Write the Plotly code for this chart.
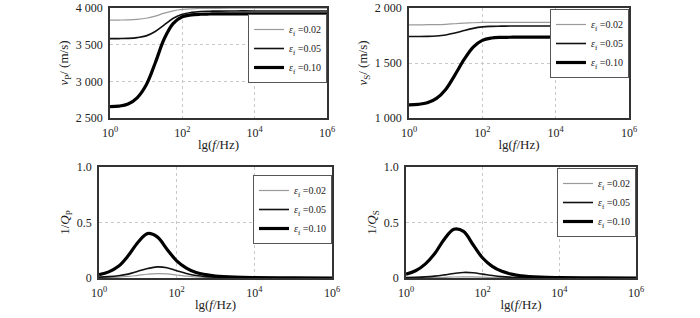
import plotly.graph_objects as go

# log10 of frequency (Hz) at which values were read
lg_f = [0, 0.25, 0.5, 0.75, 1.0, 1.25, 1.5, 1.75, 2.0, 2.25, 2.5, 2.75, 3.0, 3.5, 4.0, 5.0, 6.0]
freq = [10 ** v for v in lg_f]

labels = ["<i>ε</i><sub>f</sub> =0.02", "<i>ε</i><sub>f</sub> =0.05", "<i>ε</i><sub>f</sub> =0.10"]

# P-wave velocity (m/s)
vp_002 = [3835, 3836, 3838, 3845, 3860, 3890, 3930, 3962, 3980, 3989, 3993, 3995, 3996, 3997, 3997, 3997, 3997]
vp_005 = [3582, 3583, 3586, 3596, 3620, 3680, 3770, 3860, 3915, 3940, 3952, 3956, 3958, 3960, 3960, 3960, 3960]
vp_010 = [2655, 2662, 2690, 2775, 2950, 3250, 3580, 3790, 3880, 3906, 3915, 3918, 3920, 3920, 3920, 3920, 3920]

# S-wave velocity (m/s)
vs_002 = [1847, 1847, 1848, 1849, 1852, 1857, 1862, 1866, 1869, 1870, 1870, 1870, 1870, 1870, 1870, 1870, 1870]
vs_005 = [1741, 1741, 1742, 1746, 1755, 1772, 1795, 1815, 1828, 1833, 1835, 1836, 1836, 1836, 1836, 1836, 1836]
vs_010 = [1120, 1124, 1138, 1178, 1260, 1390, 1530, 1645, 1706, 1727, 1733, 1734, 1735, 1736, 1736, 1736, 1736]

# P-wave attenuation 1/Qp
qp_002 = [0.003, 0.005, 0.008, 0.014, 0.024, 0.034, 0.040, 0.037, 0.027, 0.017, 0.009, 0.005, 0.003, 0.001, 0.0, 0.0, 0.0]
qp_005 = [0.008, 0.012, 0.020, 0.035, 0.060, 0.085, 0.100, 0.092, 0.065, 0.040, 0.022, 0.012, 0.007, 0.003, 0.001, 0.0, 0.0]
qp_010 = [0.030, 0.055, 0.105, 0.200, 0.320, 0.400, 0.370, 0.260, 0.155, 0.090, 0.050, 0.030, 0.018, 0.008, 0.004, 0.001, 0.0]

# S-wave attenuation 1/Qs
qs_002 = [0.001, 0.0015, 0.002, 0.004, 0.006, 0.009, 0.010, 0.0095, 0.007, 0.0045, 0.0025, 0.0015, 0.001, 0.0, 0.0, 0.0, 0.0]
qs_005 = [0.004, 0.006, 0.010, 0.017, 0.028, 0.041, 0.050, 0.047, 0.035, 0.022, 0.012, 0.007, 0.004, 0.002, 0.001, 0.0, 0.0]
qs_010 = [0.035, 0.065, 0.125, 0.220, 0.350, 0.440, 0.420, 0.300, 0.180, 0.105, 0.060, 0.035, 0.020, 0.008, 0.004, 0.001, 0.0]

x_tickvals = [1, 100, 1e4, 1e6]
x_ticktext = ["10<sup>0</sup>", "10<sup>2</sup>", "10<sup>4</sup>", "10<sup>6</sup>"]

W, H = 700, 318
panels = [
    # (series, domain px x, domain px y, ytitle, yrange, ytickvals, yticktext, legend px (right, top))
    ([vp_002, vp_005, vp_010], (110, 327), (8, 118), "<i>v</i><sub>P</sub>/ (m/s)", [2500, 4000],
     [2500, 3000, 3500, 4000], ["2 500", "3 000", "3 500", "4 000"], (327, 14)),
    ([vs_002, vs_005, vs_010], (409, 629), (8, 118), "<i>v</i><sub>S</sub>/ (m/s)", [1000, 2000],
     [1000, 1500, 2000], ["1 000", "1 500", "2 000"], (629, 9)),
    ([qp_002, qp_005, qp_010], (99, 332), (167, 278), "1/<i>Q</i><sub>P</sub>", [0, 1.0],
     [0, 0.5, 1.0], ["0", "0.5", "1.0"], (332, 175)),
    ([qs_002, qs_005, qs_010], (406, 636), (167, 278), "1/<i>Q</i><sub>S</sub>", [0, 1.0],
     [0, 0.5, 1.0], ["0", "0.5", "1.0"], (636, 168)),
]


def fx(px):
    return px / W


def fy(py):
    return 1 - py / H


styles = [dict(color="#9a9a9a", width=1.2), dict(color="#111111", width=1.6), dict(color="#000000", width=3.2)]
FONT = "Liberation Serif"

fig = go.Figure()
layout = dict(
    width=W, height=H, margin=dict(l=0, r=0, t=0, b=0, autoexpand=False),
    paper_bgcolor="white", plot_bgcolor="white",
    font=dict(family=FONT, size=12, color="#222"),
)

for i, (series, dx, dy, ytitle, yr, ytv, ytt, lg) in enumerate(panels):
    n = i + 1
    xa = "x" if n == 1 else f"x{n}"
    ya = "y" if n == 1 else f"y{n}"
    leg = "legend" if n == 1 else f"legend{n}"
    for s, st, lab in zip(series, styles, labels):
        fig.add_trace(go.Scatter(x=freq, y=s, mode="lines", line=dict(shape="spline", **st),
                                 name=lab, xaxis=xa, yaxis=ya, legend=leg))
    xkey = "xaxis" if n == 1 else f"xaxis{n}"
    ykey = "yaxis" if n == 1 else f"yaxis{n}"
    layout[xkey] = dict(
        domain=[fx(dx[0]), fx(dx[1])], anchor=ya, type="log", range=[0, 6], automargin=False,
        tickvals=x_tickvals, ticktext=x_ticktext, ticks="outside", ticklen=3, tickcolor="rgba(0,0,0,0)",
        showline=True, mirror=True,
        linecolor="#333", linewidth=1.5, showgrid=True, gridcolor="#c8c8c8", griddash="dot",
        gridwidth=1, zeroline=False, tickfont=dict(size=12),
        title=dict(text="lg(<i>f</i>/Hz)", font=dict(size=13), standoff=1),
    )
    layout[ykey] = dict(
        domain=[fy(dy[1]), fy(dy[0])], anchor=xa, range=yr, automargin=False,
        tickvals=ytv, ticktext=ytt, ticks="outside", ticklen=3, tickcolor="rgba(0,0,0,0)",
        showline=True, mirror=True,
        linecolor="#333", linewidth=1.5, showgrid=True, gridcolor="#c8c8c8", griddash="dot",
        gridwidth=1, zeroline=False, tickfont=dict(size=12),
        title=dict(text=ytitle, font=dict(size=13), standoff=4),
    )
    layout[leg] = dict(
        x=fx(lg[0]), y=fy(lg[1]), xanchor="right", yanchor="top", xref="paper", yref="paper",
        bgcolor="white", bordercolor="#555", borderwidth=1, font=dict(size=10, family=FONT),
        itemwidth=30, tracegroupgap=0,
    )

fig.update_layout(**layout)
# remove the default 8px page margin so the 700x318 figure fills the window exactly
fig.write_html("out.html", config={"displayModeBar": False},
               post_script="document.body.style.margin='0';")
